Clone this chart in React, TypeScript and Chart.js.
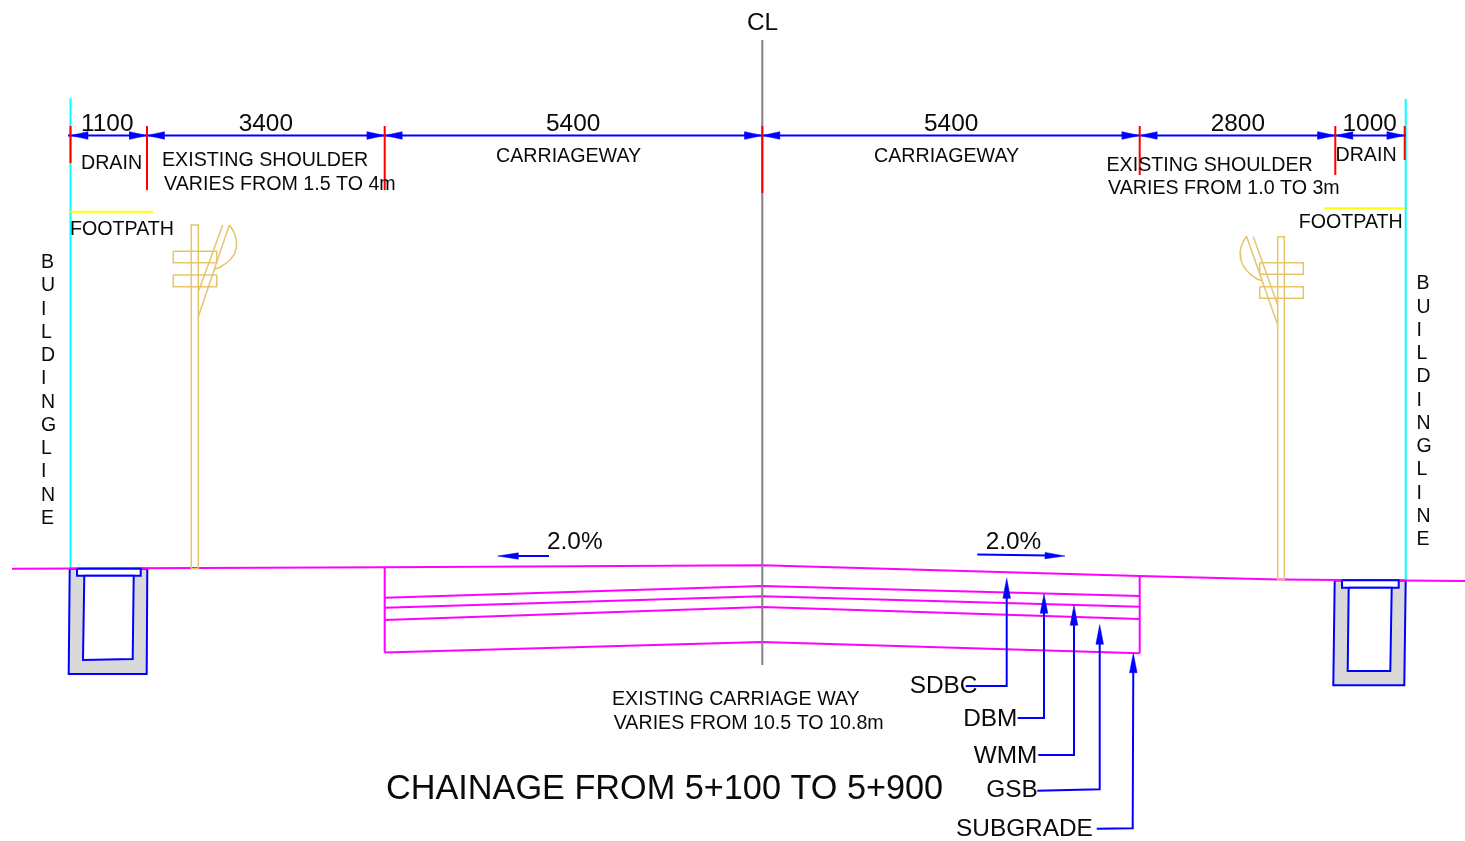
import React, { useEffect, useRef } from "react";
import { Chart, registerables } from "chart.js";

Chart.register(...registerables);

type P = [number, number];

// Drawing-space readings (x along the road section, y downward on the sheet)
const centreLine: P[] = [[762.3, 40], [762.3, 665]];
const groundLine: P[] = [[12, 568.7], [385, 567.3], [762.3, 565.3], [1139.7, 576], [1278, 579.5], [1465, 581]];
const layerDbmTop: P[] = [[384.7, 597.7], [762.3, 586], [1139.7, 596]];
const layerWmmTop: P[] = [[384.7, 607.7], [762.3, 596.3], [1139.7, 606.7]];
const layerGsbTop: P[] = [[384.7, 620], [762.3, 607], [1139.7, 619]];
const layerSubgrade: P[] = [[384.7, 652.5], [762.3, 642], [1139.7, 653.3]];
const pavementLeft: P[] = [[384.7, 567.3], [384.7, 652.5]];
const pavementRight: P[] = [[1139.7, 576], [1139.7, 653.3]];

const buildingLineLeft: P[] = [[70.5, 98.3], [70.5, 568.7]];
const buildingLineRight: P[] = [[1405.7, 99], [1405.7, 581]];
const footpathLeft: P[] = [[70, 211.7], [153.3, 211.7]];
const footpathRight: P[] = [[1324.3, 208.3], [1405, 208.3]];

const dimensionLine: P[] = [[68, 135.5], [1406, 135.5]];
const dimensionStops = [70.5, 147, 384.7, 762.3, 1139.7, 1335.3, 1404.7];
const dimensionStopEnds = [163, 190, 190, 193, 175, 175, 160];
const dimensionTop = 126;

const drainLeftOuter: P[] = [[69.7, 568.7], [147.3, 568.7], [146.7, 674], [68.7, 674], [69.7, 568.7]];
const drainLeftLid: P[] = [[77, 568.7], [140.7, 568.7], [140.7, 575.7], [77, 575.7], [77, 568.7]];
const drainLeftInner: P[] = [[84.3, 575.7], [133.7, 575.7], [132.7, 659], [83, 660], [84.3, 575.7]];
const drainRightOuter: P[] = [[1334.7, 580.3], [1405.7, 580.5], [1404.3, 685.3], [1333.3, 685.3], [1334.7, 580.3]];
const drainRightLid: P[] = [[1342, 580.3], [1398.7, 580.3], [1398.7, 587.7], [1342, 587.7], [1342, 580.3]];
const drainRightInner: P[] = [[1348.7, 587.7], [1391.7, 587.7], [1390.3, 671], [1347.7, 671], [1348.7, 587.7]];

const poleLeftShaft: P[] = [[198.3, 568.7], [198.3, 225], [191.3, 225], [191.3, 568.7], [198.3, 568.7]];
const poleLeftArmA: P[] = [[173.3, 251.3], [216.7, 251.3], [216.7, 262.7], [173.3, 262.7], [173.3, 251.3]];
const poleLeftArmB: P[] = [[173.3, 275], [216.7, 275], [216.7, 286.7], [173.3, 286.7], [173.3, 275]];
const poleLeftBraceA: P[] = [[222.7, 225], [199, 290]];
const poleLeftBraceB: P[] = [[229.3, 225], [198.3, 316.7]];
const poleLeftLamp: P[] = [[229.3, 225], [232.5, 229.5], [235, 235], [236.5, 241], [236.5, 247], [234.5, 254], [230.5, 259.5], [225, 264], [219.5, 267.5], [214, 269.3]];

const poleRightShaft: P[] = [[1284.3, 580], [1284.3, 236.7], [1277.7, 236.7], [1277.7, 580], [1284.3, 580]];
const poleRightArmA: P[] = [[1259.7, 262.7], [1303.3, 262.7], [1303.3, 274.3], [1259.7, 274.3], [1259.7, 262.7]];
const poleRightArmB: P[] = [[1259.7, 286.7], [1303.3, 286.7], [1303.3, 298.3], [1259.7, 298.3], [1259.7, 286.7]];
const poleRightBraceA: P[] = [[1253.3, 236.7], [1277.7, 305]];
const poleRightBraceB: P[] = [[1246.7, 236.7], [1277.7, 325]];
const poleRightLamp: P[] = [[1246.7, 236], [1243.5, 241], [1241, 247], [1240, 253.3], [1240.7, 259.5], [1243, 265.5], [1246.7, 270.5], [1251.7, 275.5], [1257, 279], [1262, 280.7]];

const leaderSdbc: P[] = [[965.7, 686], [1006.7, 686], [1006.7, 590]];
const leaderDbm: P[] = [[1017.7, 718], [1044, 718], [1044, 606]];
const leaderWmm: P[] = [[1038.3, 755], [1074, 755], [1074, 618]];
const leaderGsb: P[] = [[1037.3, 790.7], [1099.7, 789.3], [1099.7, 637]];
const leaderSubgrade: P[] = [[1096.7, 828.7], [1132.7, 828.3], [1133.3, 665]];
const slopeLeft: P[] = [[549, 556], [515, 556]];
const slopeRight: P[] = [[977.3, 554.5], [1048, 555.5]];

// Arrow tips: [tip x, tip y, base x, base y]
const leaderTips: number[][] = [
  [1006.7, 578.3, 1006.7, 598.3],
  [1044, 594, 1044, 613.3],
  [1074, 605.3, 1074, 625.3],
  [1099.7, 624.7, 1099.7, 644.3],
  [1133.3, 653.3, 1133.3, 672.7],
  [497.7, 556, 518.3, 556],
  [1065, 556, 1045, 555.6],
];

const dimensionTexts = ["1100", "3400", "5400", "5400", "2800", "1000"];
const dimensionTextX = [81, 238.7, 546, 924, 1210.7, 1342.5];
const dimensionTextY = [131, 131, 131, 131, 131, 131];

const smallTexts = [
  "DRAIN", "EXISTING SHOULDER", "VARIES FROM 1.5 TO 4m", "FOOTPATH", "CARRIAGEWAY", "CARRIAGEWAY",
  "EXISTING SHOULDER", "VARIES FROM 1.0 TO 3m", "DRAIN", "FOOTPATH",
  "EXISTING CARRIAGE WAY", "VARIES FROM 10.5 TO 10.8m",
];
const smallTextX = [81, 162, 164, 70, 496, 874, 1106.5, 1108, 1335.5, 1298.7, 612, 613.7];
const smallTextY = [169.3, 166, 189.5, 234.5, 162, 162, 171, 194, 160.7, 227.7, 705, 729];

const calloutTexts = ["CL", "2.0%", "2.0%", "SDBC", "DBM", "WMM", "GSB", "SUBGRADE"];
const calloutX = [747, 547, 985.7, 909.7, 963.2, 973.7, 986.2, 956];
const calloutY = [30, 548.7, 548.5, 693.3, 725.7, 762.7, 797.3, 836.3];

const titleText = "CHAINAGE FROM 5+100 TO 5+900";
const titleX = 386;
const titleY = 799;

const sideWord = "BUILDINGLINE".split("");
const sideLeftX = 41;
const sideRightX = 1416.5;
const sideLeftStart = 268;
const sideRightStart = 289.3;
const sideStep = 23.27;

const BLUE = "#0000ff";
const MAGENTA = "#ff00ff";
const RED = "#ff0000";
const CYAN = "#00ffff";
const YELLOW = "#ffff00";
const TAN = "#e5c56c";
const GREY = "#808080";
const DRAIN_FILL = "#d9d9d9";
const INK = "#0a0a0a";
const FONT = '"Liberation Sans", Arial, sans-serif';

function line(points: P[], color: string, width = 2, fillColor?: string) {
  return {
    data: points.map(([x, y]) => ({ x, y })),
    showLine: true,
    borderColor: color,
    borderWidth: width,
    pointRadius: 0,
    pointHoverRadius: 0,
    tension: 0,
    fill: fillColor ? "shape" : false,
    backgroundColor: fillColor ?? "transparent",
    borderCapStyle: "butt" as const,
    borderJoinStyle: "miter" as const,
  };
}

function head(tx: number, ty: number, bx: number, by: number, half = 3.8): P[] {
  const dx = bx - tx;
  const dy = by - ty;
  const len = Math.hypot(dx, dy) || 1;
  const nx = (-dy / len) * half;
  const ny = (dx / len) * half;
  return [[tx, ty], [bx + nx, by + ny], [bx - nx, by - ny], [tx, ty]];
}

const textPlugin = {
  id: "sheetText",
  afterDatasetsDraw(chart: any) {
    const { ctx, scales } = chart;
    const put = (s: string, x: number, y: number, size: number) => {
      ctx.font = `${size}px ${FONT}`;
      ctx.fillText(s, scales.x.getPixelForValue(x), scales.y.getPixelForValue(y));
    };
    ctx.save();
    ctx.fillStyle = INK;
    ctx.textAlign = "left";
    ctx.textBaseline = "alphabetic";
    dimensionTexts.forEach((s, i) => put(s, dimensionTextX[i], dimensionTextY[i], 24.4));
    smallTexts.forEach((s, i) => put(s, smallTextX[i], smallTextY[i], 19.65));
    calloutTexts.forEach((s, i) => put(s, calloutX[i], calloutY[i], 24.4));
    put(titleText, titleX, titleY, 34.25);
    sideWord.forEach((s, i) => {
      put(s, sideLeftX, sideLeftStart + i * sideStep, 19.5);
      put(s, sideRightX, sideRightStart + i * sideStep, 19.5);
    });
    ctx.restore();
  },
};

export default function App() {
  const ref = useRef<HTMLCanvasElement>(null);

  useEffect(() => {
    const sets: any[] = [
      line(drainLeftOuter, BLUE, 2, DRAIN_FILL),
      line(drainRightOuter, BLUE, 2, DRAIN_FILL),
      line(buildingLineLeft, CYAN),
      line(buildingLineRight, CYAN),
      line(footpathLeft, YELLOW),
      line(footpathRight, YELLOW),
      line(groundLine, MAGENTA),
      line(drainLeftLid, BLUE, 2, "#ffffff"),
      line(drainLeftInner, BLUE, 2, "#ffffff"),
      line(drainRightLid, BLUE, 2, "#ffffff"),
      line(drainRightInner, BLUE, 2, "#ffffff"),
      line(layerDbmTop, MAGENTA),
      line(layerWmmTop, MAGENTA),
      line(layerGsbTop, MAGENTA),
      line(layerSubgrade, MAGENTA),
      line(pavementLeft, MAGENTA),
      line(pavementRight, MAGENTA),
      line(centreLine, GREY),
      ...[poleLeftShaft, poleLeftArmA, poleLeftArmB, poleLeftBraceA, poleLeftBraceB, poleLeftLamp,
        poleRightShaft, poleRightArmA, poleRightArmB, poleRightBraceA, poleRightBraceB, poleRightLamp,
      ].map((p) => line(p, TAN, 1.5)),
      line(dimensionLine, BLUE),
      ...[leaderSdbc, leaderDbm, leaderWmm, leaderGsb, leaderSubgrade, slopeLeft, slopeRight].map((p) => line(p, BLUE)),
      ...leaderTips.map((t) => line(head(t[0], t[1], t[2], t[3], Math.abs(t[1] - t[3]) < 1 ? 3.2 : 3.8), BLUE, 0.5, BLUE)),
    ];
    for (let i = 0; i + 1 < dimensionStops.length; i++) {
      const a = dimensionStops[i];
      const b = dimensionStops[i + 1];
      sets.push(line(head(a, 135.5, a + 17.5, 135.5), BLUE, 0.5, BLUE));
      sets.push(line(head(b, 135.5, b - 17.5, 135.5), BLUE, 0.5, BLUE));
    }
    dimensionStops.forEach((x, i) => {
      sets.push(line([[x, dimensionTop], [x, dimensionStopEnds[i]]], RED));
    });

    const chart = new Chart(ref.current!, {
      type: "scatter",
      data: { datasets: sets.reverse() },
      options: {
        animation: false,
        responsive: false,
        maintainAspectRatio: false,
        devicePixelRatio: 1,
        layout: { padding: 0 },
        events: [],
        plugins: { legend: { display: false }, tooltip: { enabled: false }, title: { display: false } },
        scales: {
          x: { type: "linear", min: 0, max: 1465, display: false },
          y: { type: "linear", min: 0, max: 841, reverse: true, display: false },
        },
      },
      plugins: [textPlugin],
    } as any);
    return () => chart.destroy();
  }, []);

  return (
    <canvas
      ref={ref}
      width={1465}
      height={841}
      style={{ position: "fixed", left: 0, top: 0, width: 1465, height: 841, display: "block", background: "#ffffff" }}
    />
  );
}
